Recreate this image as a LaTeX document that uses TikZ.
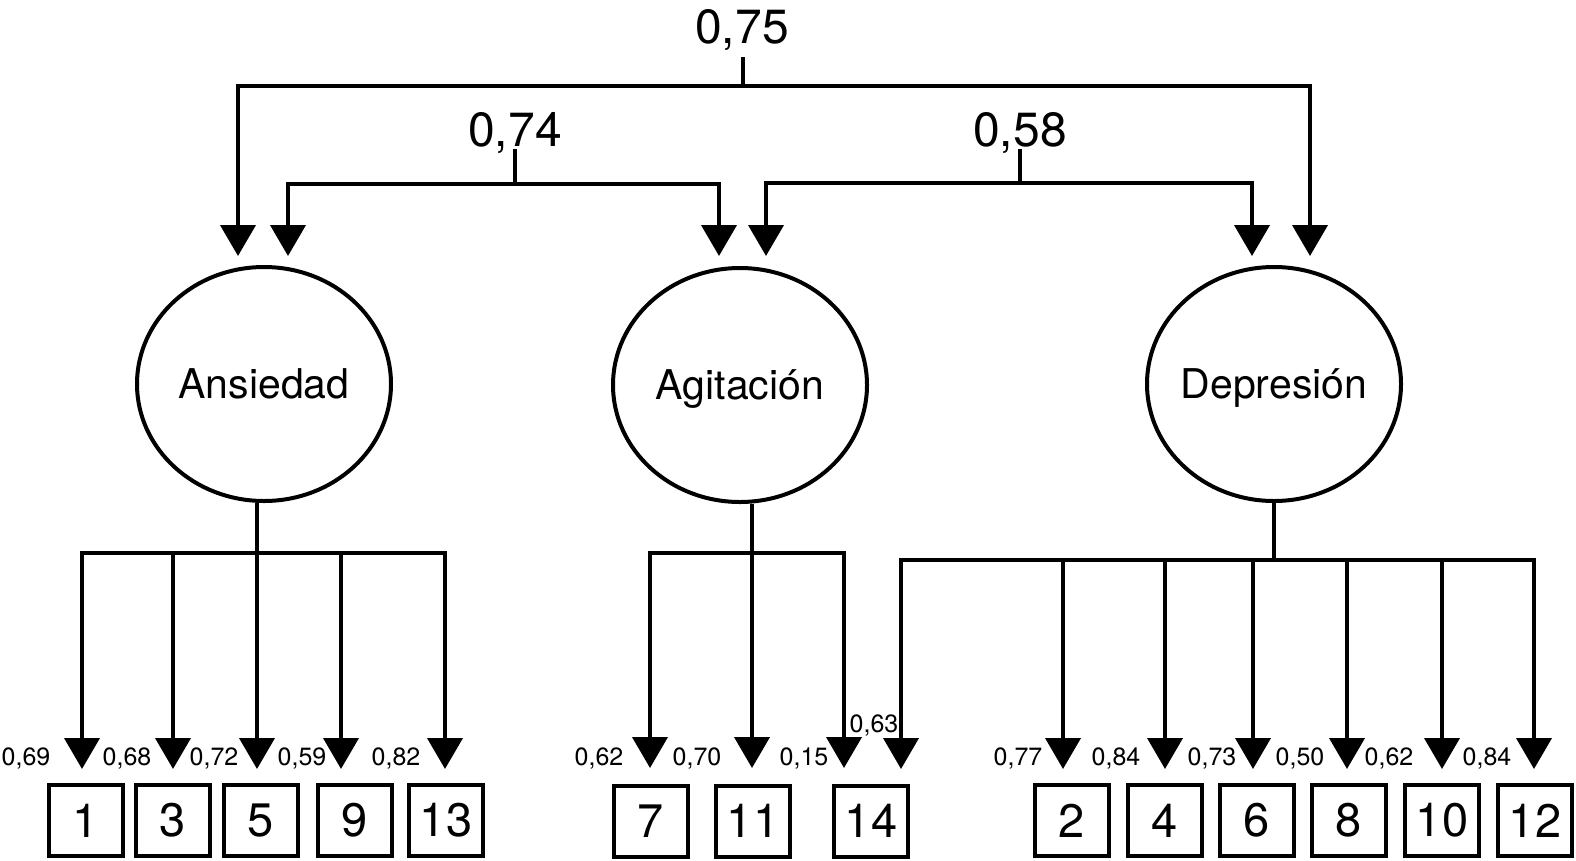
\documentclass[tikz,border=0pt]{standalone}
\usepackage{fontspec}
\setmainfont{TeX Gyre Heros}
\usetikzlibrary{arrows.meta,shapes.geometric}
\begin{document}
\begin{tikzpicture}[x=1pt,y=-1pt,
  conn/.style={line width=4pt},
  arr/.style={conn,-{Triangle[width=35pt,length=31pt]}},
  latent/.style={ellipse,draw,line width=4pt,minimum width=254pt,minimum height=234pt,inner sep=0pt},
  item/.style={rectangle,draw,line width=4pt,minimum width=74pt,minimum height=71pt,inner sep=0pt,font=\fontsize{47}{49}\selectfont},
  big/.style={anchor=base,font=\fontsize{48}{50}\selectfont},
  fname/.style={anchor=base,font=\fontsize{41}{44}\selectfont},
  small/.style={anchor=base,font=\fontsize{25}{27}\selectfont}]
\useasboundingbox (0,0) rectangle (1576,860);

% latent factors
\node[latent] (ans) at (264,384) {};
\node[latent] (agi) at (740,385) {};
\node[latent] (dep) at (1274,384) {};
\node[fname] (tans) at (264,398) {Ansiedad};
\node[fname] (tagi) at (740,399) {Agitación};
\node[fname] (tdep) at (1274,398) {Depresión};

% correlation labels
\node[big] (l75) at (742,43) {0,75};
\node[big] (l74) at (515,146) {0,74};
\node[big] (l58) at (1020,146) {0,58};

\coordinate (s75) at (743,57);  \coordinate (j75) at (743,86);
\coordinate (s74) at (515,149); \coordinate (j74) at (515,184);
\coordinate (s58) at (1020,149); \coordinate (j58) at (1020,183);

\coordinate (ta1) at (238,256); \coordinate (ta2) at (288,256);
\coordinate (tg1) at (719,256); \coordinate (tg2) at (766,256);
\coordinate (td1) at (1252,256); \coordinate (td2) at (1310,256);

\draw[conn] (s75) -- (j75);
\draw[arr] (j75) -| (ta1);
\draw[arr] (j75) -| (td2);
\draw[conn] (s74) -- (j74);
\draw[arr] (j74) -| (ta2);
\draw[arr] (j74) -| (tg1);
\draw[conn] (s58) -- (j58);
\draw[arr] (j58) -| (tg2);
\draw[arr] (j58) -| (td1);

% items
\node[item] (i1) at (86,820.5) {1};
\node[item] (i3) at (172.5,820.5) {3};
\node[item] (i5) at (261,820.5) {5};
\node[item] (i9) at (355,820.5) {9};
\node[item] (i13) at (446,820.5) {13};
\node[item] (i7) at (651,821) {7};
\node[item] (i11) at (753,821) {11};
\node[item] (i14) at (871,821) {14};
\node[item] (i2) at (1072,820.5) {2};
\node[item] (i4) at (1165,820.5) {4};
\node[item] (i6) at (1257,820.5) {6};
\node[item] (i8) at (1349,820.5) {8};
\node[item] (i10) at (1442,820.5) {10};
\node[item] (i12) at (1535,820.5) {12};

% Ansiedad loadings
\coordinate (ja) at (257,553);
\draw[conn] (ans.south -| ja) -- (ja);
\foreach \x/\n in {82/1,173/3,257/5,341/9,445/13}{
  \coordinate (p\n) at (\x,769);
  \draw[arr] (ja) -| (p\n);
}
% Agitacion loadings
\coordinate (jg) at (752,553);
\draw[conn] (agi.south -| jg) -- (jg);
\foreach \x/\n in {650/7,752/11,844/14}{
  \coordinate (p\n) at (\x,768);
  \draw[arr] (jg) -| (p\n);
}
% Depresion loadings
\coordinate (jd) at (1274,560);
\draw[conn] (dep.south -| jd) -- (jd);
\foreach \x/\n in {901/14b,1063/2,1165/4,1253/6,1347/8,1442/10,1534/12}{
  \coordinate (p\n) at (\x,769);
  \draw[arr] (jd) -| (p\n);
}

% loading labels
\node[small] (w1) at (26,765) {0,69};
\node[small] (w3) at (127,765) {0,68};
\node[small] (w5) at (214,765) {0,72};
\node[small] (w9) at (302,765) {0,59};
\node[small] (w13) at (396,765) {0,82};
\node[small] (w7) at (599,765) {0,62};
\node[small] (w11) at (697,765) {0,70};
\node[small] (w14) at (804,765) {0,15};
\node[small] (w14b) at (874,732) {0,63};
\node[small] (w2) at (1018,765) {0,77};
\node[small] (w4) at (1116,765) {0,84};
\node[small] (w6) at (1212,765) {0,73};
\node[small] (w8) at (1300,765) {0,50};
\node[small] (w10) at (1389,765) {0,62};
\node[small] (w12) at (1487,765) {0,84};
\end{tikzpicture}
\end{document}
